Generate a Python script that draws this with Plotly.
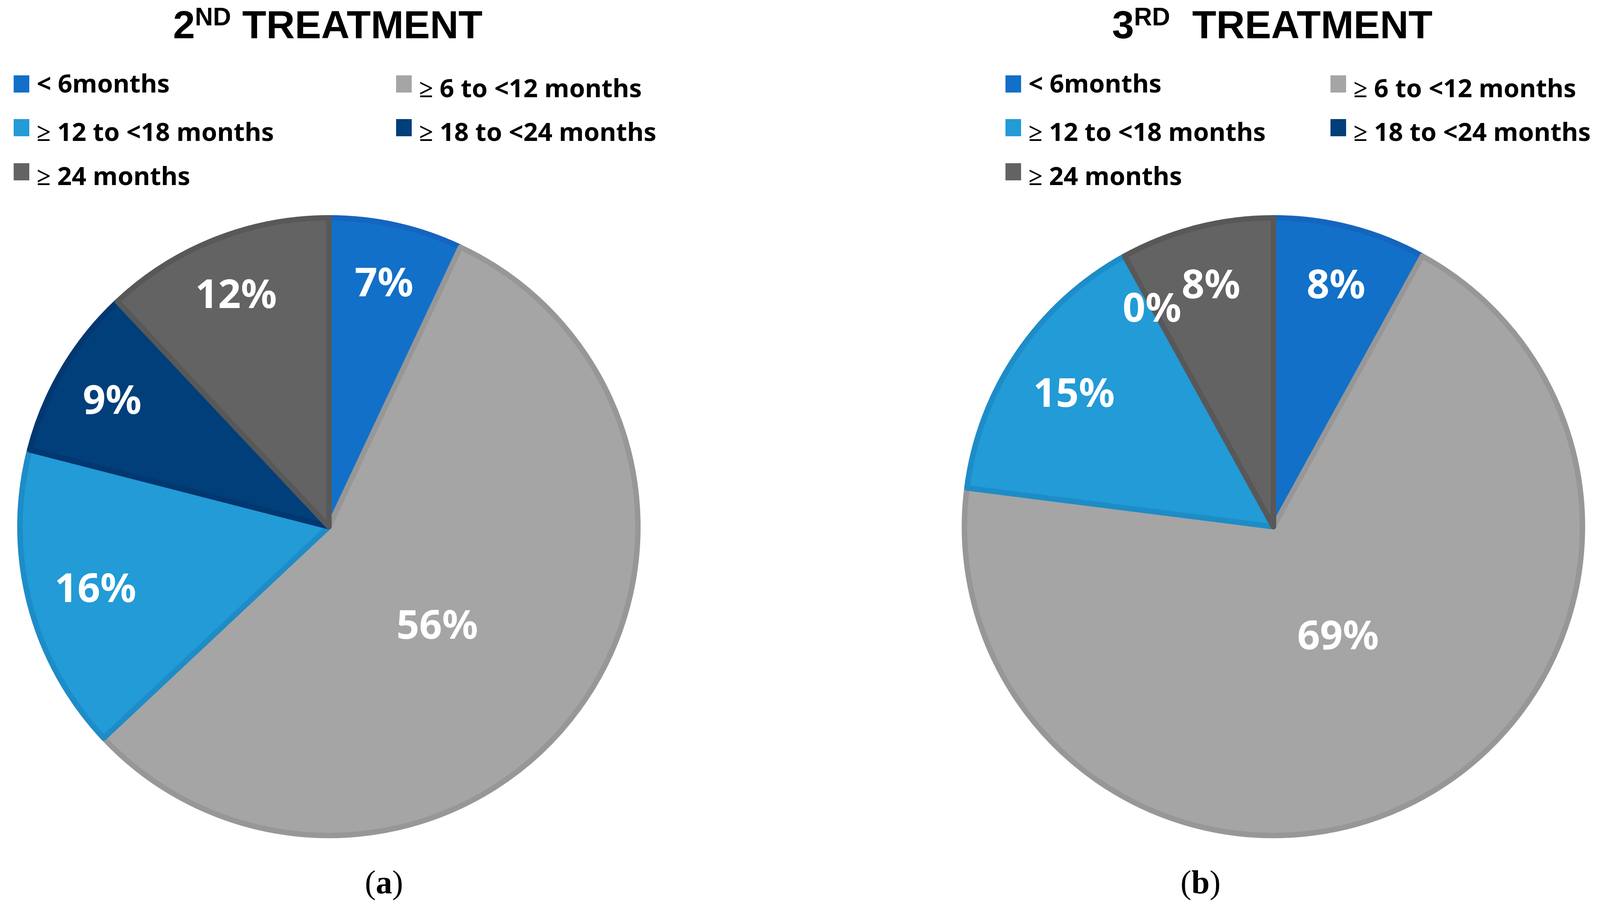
import math
import plotly.graph_objects as go

W, H = 4131, 2359

categories = ["< 6months", "≥ 6 to <12 months", "≥ 12 to <18 months",
              "≥ 18 to <24 months", "≥ 24 months"]
values_2nd = [7, 56, 16, 9, 12]
values_3rd = [8, 69, 15, 0, 8]
# title pieces: (number, superscript, main text, gap in spaces)
titles = [("2", "ND", "TREATMENT", 1), ("3", "RD", "TREATMENT", 2)]
captions = ["(<b>a</b>)", "(<b>b</b>)"]

fill_colors = ["#1270C8", "#A5A5A5", "#229BD6", "#003F7A", "#636363"]
edge_colors = ["#1565BE", "#979797", "#1D8CC7", "#023770", "#585858"]


def px(x):
    return x / W


def py(y):
    return 1 - y / H


fig = go.Figure()

annotations = []
shapes = []

# pie layout in pixels: (center x, center y, radius)
pies = [(834, 1341, 791), (3252, 1341, 791)]
for (cx, cy, r), vals in zip(pies, [values_2nd, values_3rd]):
    fig.add_trace(go.Pie(
        labels=categories,
        values=vals,
        sort=False,
        direction="clockwise",
        rotation=0,
        domain=dict(x=[px(cx - r), px(cx + r)], y=[py(cy + r), py(cy - r)]),
        marker=dict(colors=fill_colors,
                    line=dict(color=edge_colors,
                              width=[14 if v > 0 else 0 for v in vals])),
        textinfo="none",
        showlegend=False,
        hoverinfo="label+value",
    ))
    # data labels (Excel-like best fit) placed from the slice mid-angles
    total = float(sum(vals))
    cum = 0.0
    for v in vals:
        share = v / total
        mid = (cum + share / 2) * 2 * math.pi
        cum += share
        if share > 0.3:
            rf = 0.75 - 0.5 * share
            mid += 0.1 if share < 0.6 else -0.07
        elif share > 0.14:
            rf = 0.78
        else:
            rf = 0.815
        lx = cx + rf * r * math.sin(mid)
        ly = cy - rf * r * math.cos(mid)
        annotations.append(dict(
            x=px(lx), y=py(ly), xref="paper", yref="paper",
            xanchor="center", yanchor="middle", text="%d%%" % v,
            showarrow=False,
            font=dict(family="Noto Sans", size=102, color="white",
                      weight="bold"),
        ))

# titles (superscript drawn as its own smaller text)
TF, SF = 101, 64
w_num, w_sup, w_space, w_main = 0.556 * TF, 1.444 * SF, 0.278 * TF, 6.166 * TF
title_font = dict(family="Liberation Sans", size=TF, color="black", weight="bold")
sup_font = dict(family="Liberation Sans", size=SF, color="black", weight="bold")
for (cx, cy, r), (num, sup, main, gap) in zip(pies, titles):
    total_w = w_num + w_sup + gap * w_space + w_main
    left = cx - total_w / 2
    annotations.append(dict(
        x=px(left), y=py(112), xref="paper", yref="paper",
        xanchor="left", yanchor="bottom", text=num, showarrow=False,
        font=title_font, borderpad=0,
    ))
    annotations.append(dict(
        x=px(left + w_num), y=py(72), xref="paper", yref="paper",
        xanchor="left", yanchor="bottom", text=sup, showarrow=False,
        font=sup_font, borderpad=0,
    ))
    annotations.append(dict(
        x=px(left + w_num + w_sup + gap * w_space), y=py(112),
        xref="paper", yref="paper",
        xanchor="left", yanchor="bottom", text=main, showarrow=False,
        font=title_font, borderpad=0,
    ))

# legends
legend_origin = [(27, 1006), (2566, 3398)]
row_marker_cy = [207, 319, 432]
text_dy = [0, 12, 12, 12, 12]
for (c1, c2) in legend_origin:
    for i, cat in enumerate(categories):
        row, col = divmod(i, 2)
        mx = c1 if col == 0 else c2
        mcy = row_marker_cy[row]
        shapes.append(dict(
            type="rect", xref="paper", yref="paper",
            x0=px(mx), x1=px(mx + 40), y0=py(mcy + 22), y1=py(mcy - 22),
            fillcolor=fill_colors[i], line=dict(width=0),
        ))
        annotations.append(dict(
            x=px(mx + 57), y=py(mcy + text_dy[i] - 3), xref="paper", yref="paper",
            xanchor="left", yanchor="middle", text="<b>%s</b>" % cat,
            showarrow=False,
            font=dict(family="Noto Sans", size=65, color="black"),
        ))

# captions
for x, c in zip([975, 3065], captions):
    annotations.append(dict(
        x=px(x), y=py(2252), xref="paper", yref="paper",
        xanchor="center", yanchor="middle", text=c, showarrow=False,
        font=dict(family="Liberation Serif", size=84, color="black"),
    ))

fig.update_layout(
    width=W, height=H,
    margin=dict(l=0, r=0, t=0, b=0),
    paper_bgcolor="white", plot_bgcolor="white",
    annotations=annotations, shapes=shapes,
)

fig.write_html("out.html")
